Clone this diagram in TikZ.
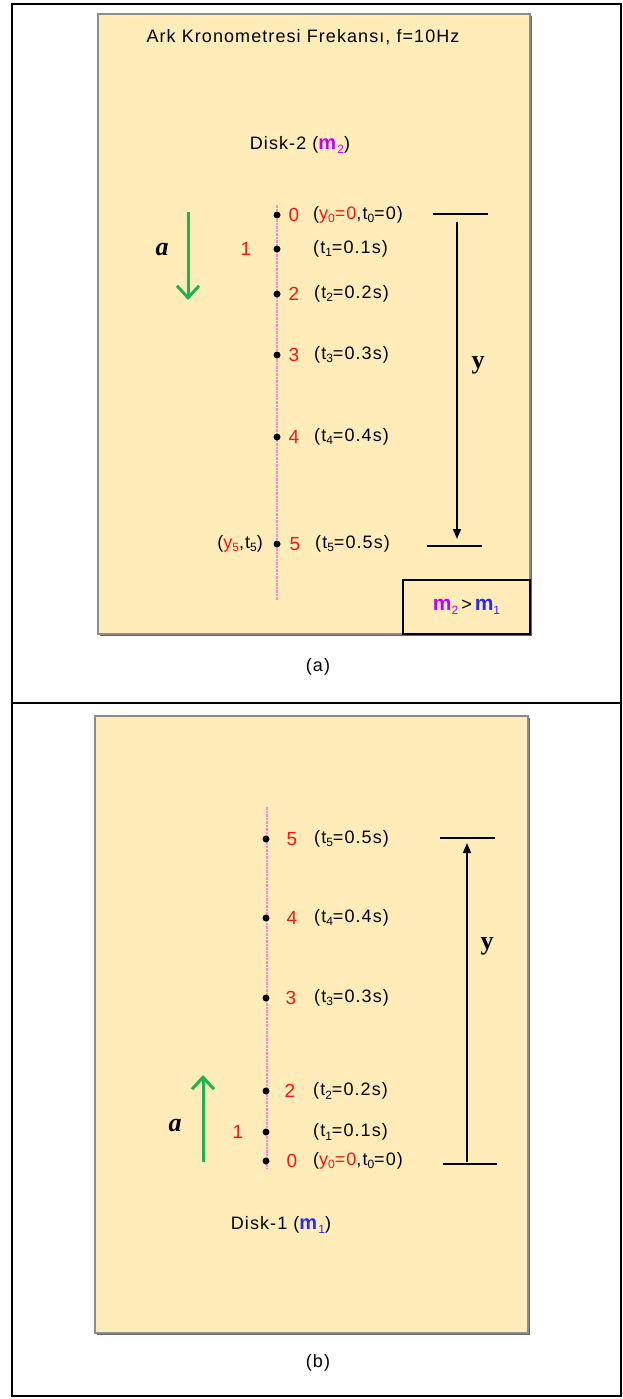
\documentclass[tikz,border=0pt]{standalone}
\usepackage{fontspec}
\setmainfont{Liberation Sans}
\newfontfamily\widefont[LetterSpace=6]{Liberation Sans}
\newfontfamily\timesfont{Liberation Serif}
\usetikzlibrary{arrows.meta}

\newcommand{\lowix}[1]{\raisebox{-0.35ex}{\fontsize{12}{12}\selectfont #1}}

\definecolor{panelfill}{RGB}{255, 236, 184}
\definecolor{numred}{RGB}{255, 20, 20}
\definecolor{mtwo}{RGB}{190, 0, 255}
\definecolor{mone}{RGB}{40, 40, 255}
\definecolor{trackpink}{RGB}{255, 140, 210}
\definecolor{accgreen}{RGB}{30, 180, 80}

\tikzset{
  lbl/.style={font=\widefont\fontsize{18}{18}\selectfont, inner sep=0pt},
  num/.style={font=\fontsize{19}{19}\selectfont, text=numred, inner sep=0pt},
  dot/.style={circle, fill=black, inner sep=0pt, minimum size=7pt},
  tick/.style={line width=1.6pt},
  yarrow/.style={line width=1.6pt, -{Triangle[length=10pt,width=8pt]}},
  aarrow/.style={line width=3pt, draw=accgreen, -{Straight Barb[length=12pt,width=22pt]}},
  panel/.style={fill=panelfill, draw=black!45, line width=1.5pt},
  track/.style={draw=trackpink, line width=1.6pt, dash pattern=on 2.5pt off 1pt},
  symb/.style={font=\timesfont\fontsize{26}{26}\selectfont\bfseries, inner sep=0pt}
}

\begin{document}
\begin{tikzpicture}[x=1pt, y=-1pt]

  \useasboundingbox (0,0) rectangle (623,1399);

  % outer table
  \draw[line width=2pt] (12,4) rectangle (621,1396);
  \draw[line width=2pt] (12,703) -- (621,703);

  % ---------------- (a) Disk-2 ----------------
  \fill[black!60] (100,16) rectangle (532,636);
  \draw[panel] (98,14) rectangle (530,634);

  \node[lbl] (titleA) at (303,37) {Ark Kronometresi Frekans\i, f=10Hz};
  \node[lbl] (diskA) at (300,145) {Disk-2 (\textcolor{mtwo}{\fontsize{20}{20}\selectfont\textbf{m}\lowix{2}})};

  % pink track
  \draw[track] (277,205) -- (277,600);

  % dots
  \node[dot] (a0) at (277,215) {};
  \node[dot] (a1) at (277,249) {};
  \node[dot] (a2) at (277,294) {};
  \node[dot] (a3) at (277,355) {};
  \node[dot] (a4) at (277,437) {};
  \node[dot] (a5) at (277,544) {};

  % numbers
  \node[num] (na0) at (294,215) {0};
  \node[num] (na1) at (246,249) {1};
  \node[num] (na2) at (294,294) {2};
  \node[num] (na3) at (294,355) {3};
  \node[num] (na4) at (294,437) {4};
  \node[num] (na5) at (295,544) {5};

  % times
  \node[lbl, anchor=west] (ta0) at (313,215) {(\textcolor{numred}{y\lowix{0}=0},t\lowix{0}=0)};
  \node[lbl, anchor=west] (ta1) at (313,249) {(t\lowix{1}=0.1s)};
  \node[lbl, anchor=west] (ta2) at (314,294) {(t\lowix{2}=0.2s)};
  \node[lbl, anchor=west] (ta3) at (314,355) {(t\lowix{3}=0.3s)};
  \node[lbl, anchor=west] (ta4) at (314,437) {(t\lowix{4}=0.4s)};
  \node[lbl, anchor=west] (ta5) at (315,544) {(t\lowix{5}=0.5s)};
  \node[lbl, anchor=east] (ya5) at (263,544) {(\textcolor{numred}{y\lowix{5}},t\lowix{5})};

  % y distance
  \coordinate (ta) at (433,214);
  \coordinate (tb) at (488,214);
  \coordinate (ba) at (427,546);
  \coordinate (bb) at (482,546);
  \coordinate (ya) at (457,222);
  \coordinate (yb) at (457,539);
  \draw[tick] (ta) -- (tb);
  \draw[tick] (ba) -- (bb);
  \draw[yarrow] (ya) -- (yb);
  \node[symb] (yA) at (478,365) {y};

  % acceleration
  \coordinate (ga) at (188,212);
  \coordinate (gb) at (188,300);
  \draw[aarrow] (ga) -- (gb);
  \node[symb, font=\timesfont\fontsize{26}{26}\selectfont\bfseries\itshape] (accA) at (162,250) {a};

  % mass comparison
  \node[draw=black, line width=1.5pt, fill=panelfill, minimum width=127pt, minimum height=54pt, inner sep=0pt,
        font=\fontsize{18}{18}\selectfont] (cmp) at (466.5,607)
        {\textcolor{mtwo}{\fontsize{21}{21}\selectfont\textbf{m}\lowix{2}}\,>\,\textcolor{mone}{\fontsize{21}{21}\selectfont\textbf{m}\lowix{1}}};

  \node[lbl] (capA) at (318,667) {(a)};

  % ---------------- (b) Disk-1 ----------------
  \fill[black!60] (97,718) rectangle (530,1335);
  \draw[panel] (95,716) rectangle (528,1333);

  \draw[track] (267,807) -- (267,1168);

  \node[dot] (b5) at (266,839) {};
  \node[dot] (b4) at (266,918) {};
  \node[dot] (b3) at (266,998) {};
  \node[dot] (b2) at (266,1091) {};
  \node[dot] (b1) at (266,1132) {};
  \node[dot] (b0) at (266,1161) {};

  \node[num] (nb5) at (292,839) {5};
  \node[num] (nb4) at (292,918) {4};
  \node[num] (nb3) at (291,998) {3};
  \node[num] (nb2) at (290,1091) {2};
  \node[num] (nb1) at (238,1132) {1};
  \node[num] (nb0) at (292,1161) {0};

  \node[lbl, anchor=west] (tb5) at (314,839) {(t\lowix{5}=0.5s)};
  \node[lbl, anchor=west] (tb4) at (314,918) {(t\lowix{4}=0.4s)};
  \node[lbl, anchor=west] (tb3) at (314,998) {(t\lowix{3}=0.3s)};
  \node[lbl, anchor=west] (tb2) at (313,1091) {(t\lowix{2}=0.2s)};
  \node[lbl, anchor=west] (tb1) at (313,1132) {(t\lowix{1}=0.1s)};
  \node[lbl, anchor=west] (tb0) at (313,1161) {(\textcolor{numred}{y\lowix{0}=0},t\lowix{0}=0)};

  \coordinate (tc) at (440,838);
  \coordinate (td) at (495,838);
  \coordinate (bc) at (443,1164);
  \coordinate (bd) at (497,1164);
  \coordinate (yc) at (467,1162);
  \coordinate (yd) at (467,843);
  \draw[tick] (tc) -- (td);
  \draw[tick] (bc) -- (bd);
  \draw[yarrow] (yc) -- (yd);
  \node[symb] (yB) at (487,946) {y};

  \coordinate (gc) at (203,1162);
  \coordinate (gd) at (203,1075);
  \draw[aarrow] (gc) -- (gd);
  \node[symb, font=\timesfont\fontsize{26}{26}\selectfont\bfseries\itshape] (accB) at (175,1125) {a};

  \node[lbl] (diskB) at (281,1225) {Disk-1 (\textcolor{mone}{\fontsize{20}{20}\selectfont\textbf{m}\lowix{1}})};

  \node[lbl] (capB) at (318,1363) {(b)};

\end{tikzpicture}
\end{document}
